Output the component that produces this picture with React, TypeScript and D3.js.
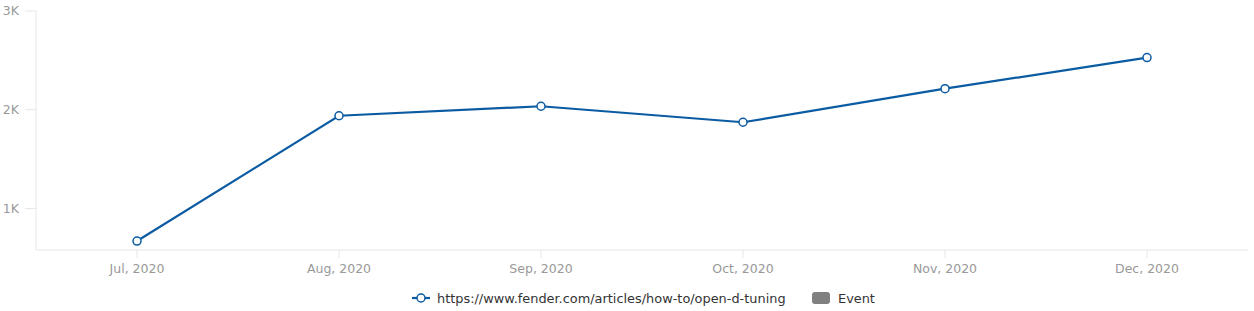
import React from "react";
import * as d3 from "d3";

const categories = ["Jul, 2020", "Aug, 2020", "Sep, 2020", "Oct, 2020", "Nov, 2020", "Dec, 2020"];
const values = [670, 1939, 2035, 1873, 2213, 2528];
const yTicks = [1000, 2000, 3000];
const seriesName = "https://www.fender.com/articles/how-to/open-d-tuning";
const eventName = "Event";

const W = 1254;
const H = 311;
const left = 36;
const right = 1248;
const top = 11;
const bottom = 250;
const color = "#0B5BA3";
const font = "'DejaVu Sans', sans-serif";

export default function App() {
  const x = d3.scalePoint<string>().domain(categories).range([left, right]).padding(0.5);
  const y = d3.scaleLinear().domain([579, 3000]).range([bottom, top]);
  const fmt = (v: number) => d3.format("~s")(v).replace("k", "K");
  const line = d3
    .line<number>()
    .x((_, i) => x(categories[i]) as number)
    .y((d) => y(d));

  return (
    <svg width={W} height={H} style={{ position: "absolute", left: 0, top: 0 }} fontFamily={font}>
      <line x1={left} x2={left} y1={top} y2={bottom} stroke="#e6e6e6" />
      <line x1={left} x2={right} y1={bottom} y2={bottom} stroke="#e6e6e6" />
      {yTicks.map((t) => (
        <g key={t}>
          <line x1={left - 11} x2={left} y1={y(t)} y2={y(t)} stroke="#e6e6e6" />
          <text x={19} y={y(t)} dy="0.35em" textAnchor="end" fontSize={12.5} fill="#999">
            {fmt(t)}
          </text>
        </g>
      ))}
      {categories.map((c) => (
        <g key={c}>
          <line x1={x(c)} x2={x(c)} y1={bottom} y2={bottom + 8} stroke="#e6e6e6" />
          <text x={x(c)} y={269} dy="0.35em" textAnchor="middle" fontSize={12.5} fill="#999">
            {c}
          </text>
        </g>
      ))}
      <path d={line(values) || ""} fill="none" stroke={color} strokeWidth={2.2} />
      {values.map((v, i) => (
        <circle key={i} cx={x(categories[i])} cy={y(v)} r={4} fill="#fff" stroke={color} strokeWidth={1.5} />
      ))}
      <g>
        <line x1={412} x2={430} y1={298} y2={298} stroke={color} strokeWidth={2.2} />
        <circle cx={421} cy={298} r={4} fill="#fff" stroke={color} strokeWidth={1.5} />
        <text x={437} y={298} dy="0.35em" fontSize={12.9} fill="#333">
          {seriesName}
        </text>
        <rect x={812} y={292} width={18} height={12} rx={3} fill="#808080" />
        <text x={838} y={298} dy="0.35em" fontSize={12.9} fill="#333">
          {eventName}
        </text>
      </g>
    </svg>
  );
}
